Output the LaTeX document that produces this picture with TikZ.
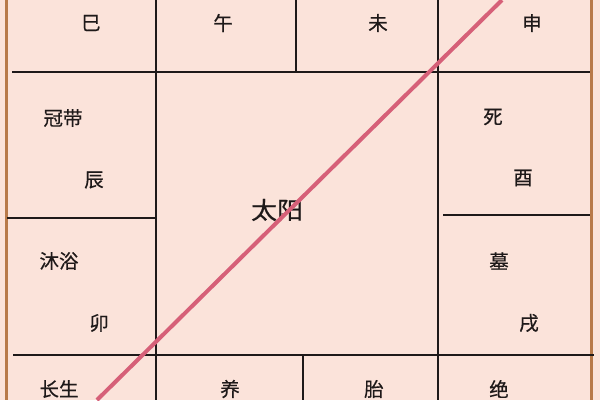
\documentclass[tikz,border=0pt]{standalone}
\usepackage{fontspec}
\newfontfamily\cjk[FakeBold=0.5]{Noto Sans CJK SC}
\definecolor{bgpink}{RGB}{251,227,218}
\definecolor{brownline}{RGB}{184,122,74}
\definecolor{diagred}{RGB}{214,96,120}
\definecolor{ink}{RGB}{30,25,25}
\tikzset{
  grid line/.style={draw=ink, line width=2pt},
  border line/.style={draw=brownline, line width=3pt},
  diag line/.style={draw=diagred, line width=4pt},
  lbl/.style={inner sep=0pt, text=ink, font=\cjk\fontsize{19.5}{19.5}\selectfont},
  biglbl/.style={inner sep=0pt, text=ink, font=\cjk\fontsize{24}{24}\selectfont, xscale=1.08, transform shape},
}
\begin{document}
\begin{tikzpicture}[x=1pt,y=-1pt]
\fill[bgpink] (0,0) rectangle (600,400);
\useasboundingbox (0,0) rectangle (600,400);
\begin{scope}
\clip (0,0) rectangle (600,400);
% borders
\draw[border line] (6.5,0) -- (6.5,400);
\draw[border line] (591,0) -- (591,400);
% grid
\draw[grid line] (12,72) -- (590,72);
\draw[grid line] (13,355) -- (594,355);
\draw[grid line] (7,218) -- (156,218);
\draw[grid line] (443,215) -- (590,215);
\draw[grid line] (156,0) -- (156,400);
\draw[grid line] (438,0) -- (438,400);
\draw[grid line] (296,0) -- (296,72);
\draw[grid line] (303,355) -- (303,400);
% labels
\node[lbl] (si) at (91,23) {巳};
\node[lbl] (wu) at (223,23) {午};
\node[lbl] (wei) at (378,23) {未};
\node[lbl] (shen) at (532,23) {申};
\node[lbl] (guandai) at (63,118) {冠带};
\node[lbl] (chen) at (94,180) {辰};
\node[lbl] (si2) at (493,117) {死};
\node[lbl] (you) at (523,178) {酉};
\node[lbl] (muyu) at (59,261) {沐浴};
\node[lbl] (mao) at (99,323) {卯};
\node[lbl] (mu) at (499,261) {墓};
\node[lbl] (xu) at (529,323) {戌};
\node[lbl] (changsheng) at (59,389) {长生};
\node[lbl] (yang) at (230,389) {养};
\node[lbl] (tai) at (374,389) {胎};
\node[lbl] (jue) at (499,389) {绝};
\node[biglbl] (taiyang) at (277,210) {太阳};
% diagonal
\coordinate (dtop) at (502,0);
\coordinate (dbot) at (97,400);
\draw[diag line] (dtop) -- (dbot);
\end{scope}
\end{tikzpicture}
\end{document}
